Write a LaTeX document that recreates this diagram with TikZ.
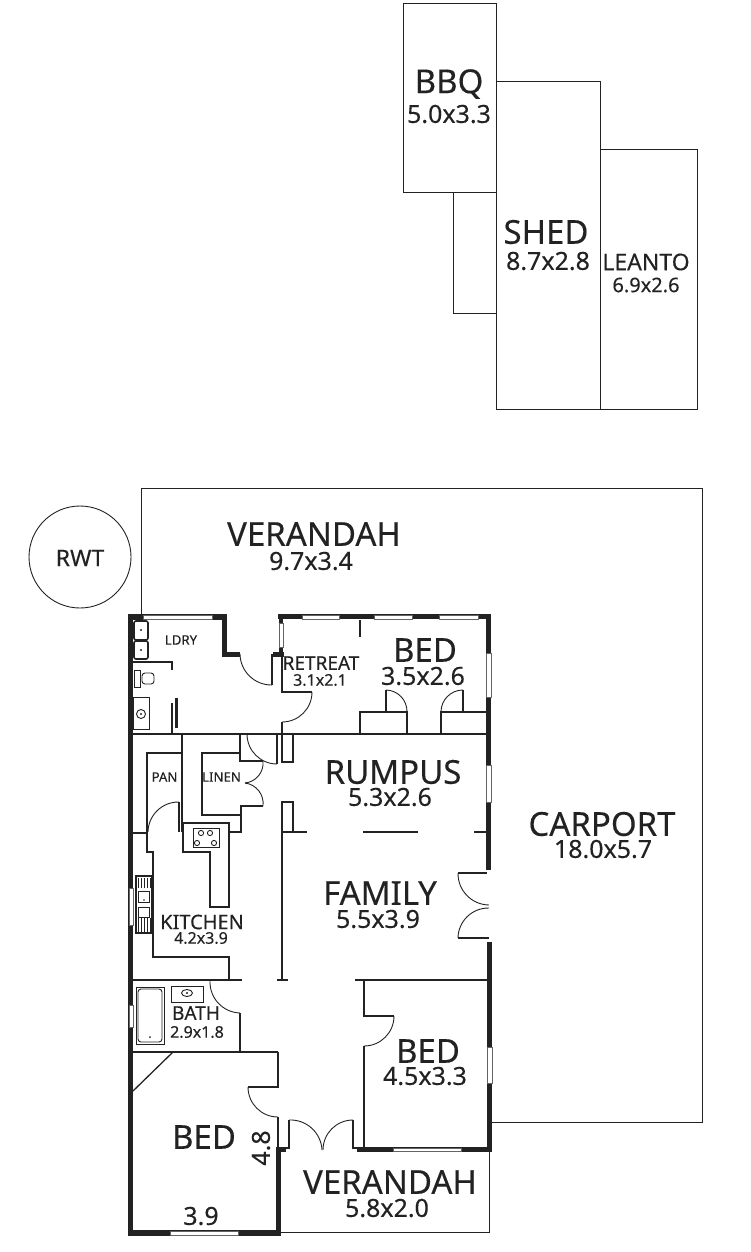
\documentclass[tikz,border=0pt]{standalone}
\usepackage{fontspec}
\setmainfont{Noto Sans}[FakeBold=0.25]
\definecolor{inkdark}{HTML}{222222}
\tikzset{
  bigtext/.style={text=inkdark,inner sep=0pt,font=\fontsize{33}{33}\selectfont},
  dimtext/.style={text=inkdark,inner sep=0pt,font=\fontsize{25}{25}\selectfont},
  leantotext/.style={text=inkdark,inner sep=0pt,font=\fontsize{23}{23}\selectfont},
  midtext/.style={text=inkdark,inner sep=0pt,font=\fontsize{20}{20}\selectfont},
  smalltext/.style={text=inkdark,inner sep=0pt,font=\fontsize{19}{19}\selectfont},
  minitext/.style={text=inkdark,inner sep=0pt,font=\fontsize{16}{16}\selectfont},
  tinytext/.style={text=inkdark,inner sep=0pt,font=\fontsize{13.2}{14}\selectfont},
  outline/.style={draw=inkdark,line width=0.9pt},
  partition/.style={draw=inkdark,line width=1.3pt},
  fixture/.style={draw=inkdark,line width=0.9pt},
  wallfill/.style={fill=inkdark},
  glazing/.style={draw=inkdark!70,fill=white,line width=0.7pt},
}
\begin{document}
\begin{tikzpicture}[x=1pt,y=-1pt]
\useasboundingbox (0,0) rectangle (750,1252);

% outbuildings
\draw[outline] (403,3) rectangle (496,192);
\draw[outline] (496,81) rectangle (600,409);
\draw[outline] (600,149) rectangle (697,409);
\draw[outline] (453,192)--(453,313)--(496,313);

% verandah and carport outline
\draw[outline] (141,614)--(141,488)--(702,488)--(702,1122)--(492,1122);
\draw[outline] (281,1232)--(489,1232)--(489,1152);
\draw[outline] (80,557) circle (51);

% walls
\foreach \xa/\ya/\xb/\yb in {128/614/133/1236,128/614/227/620,222/614/227/657,222/652/240/657,
  278/614/491/619,279/614/283/657,273/652/284/657,486/614/491/870,487/942/492/1152,
  357/1147/491/1152,128/1230/281/1236,276/1147/281/1236,277/1147/286/1152}
{
  \fill[wallfill] (\xa,\ya) rectangle (\xb,\yb);
}
% windows
\foreach \xa/\ya/\xb/\yb in {143/615/212/619,302/615/339/619,374/615/412/619,439/615/478/619,
  279/623/283/647,486/653/491/697,486/765/491/802,487/1047/492/1083,393/1148/461/1151,
  170/1231/238/1235,129/888/133/925,129/1005/133/1027}
{
  \draw[glazing] (\xa,\ya) rectangle (\xb,\yb);
}

% partitions
\draw[partition] (133,734)--(487,734);
\draw[partition] (133,980)--(242,980);
\draw[partition] (355,980)--(487,980);
\draw[partition] (133,1052)--(278,1052);
\draw[partition] (360,620)--(360,637);
\draw[partition] (282,655)--(282,692)--(312,692);
\draw[partition] (282,722)--(282,734);
\draw[partition] (272,685)--(272,655)--(277,655);
\draw[partition] (277,764)--(277,734);
\draw[partition] (360,734)--(360,712)--(407,712)--(407,734);
\draw[partition] (441,734)--(441,712)--(486,712);
\draw[partition] (386,712)--(386,690);
\draw[partition] (463,712)--(463,690);
\draw[partition] (282,734) rectangle (293,762);
\draw[partition] (282,802) rectangle (293,832);
\draw[partition] (282,802)--(282,980);
\draw[partition] (277,980)--(288,980);
\draw[partition] (282,832)--(307,832);
\draw[partition] (363,832)--(418,832);
\draw[partition] (474,832)--(487,832);
\draw[partition] (364,980)--(364,1016)--(394,1016);
\draw[partition] (364,1046)--(364,1148);
\draw[partition] (487,873)--(458,873);
\draw[partition] (458,938)--(489,938);
\draw[partition] (278,1052)--(278,1087)--(248,1087);
\draw[partition] (278,1117)--(278,1147);
\draw[partition] (286,1148)--(289,1148)--(289,1120);
\draw[partition] (357,1148)--(353,1148)--(353,1120);
\draw[partition] (173,1052)--(133,1091);
\draw[partition] (240,1013)--(240,1052);
% pantry and linen
\draw[partition] (182,734)--(182,832);
\draw[partition] (133,833)--(147,833);
\draw[partition] (182,753)--(147,753)--(147,852)--(153,852)--(153,957)--(229,957)--(229,980);
\draw[partition] (179,802)--(179,832);
\draw[partition] (240,734)--(240,761)--(263,761);
\draw[partition] (263,806)--(241,806)--(241,832)--(230,832);
\draw[partition] (240,753)--(202,753)--(202,815)--(241,815);
\draw[partition] (183,823)--(229,823)--(229,907)--(210,907)--(210,852)--(183,852)--cycle;
% laundry
\draw[partition] (133,662)--(172,662)--(172,670);
\draw[partition] (172,703)--(172,734);
\fill[wallfill] (174.5,698) rectangle (177.5,728);

% door swings
\foreach \xa/\ya/\xb/\yb in {240/654/272/685,282/722/312/692,247/734/277/764,210/981/240/1013,
  353/1120/323/1150,458/873/489/905,489/908/458/938,463/690/441/712}
{
  \draw[fixture] (\xa,\ya) to[bend right=45] (\xb,\yb);
}
\foreach \xa/\ya/\xb/\yb in {263/761/245/783,245/783/263/806,148/832/179/802,278/1117/248/1087,
  289/1120/322/1150,394/1016/364/1046,386/690/407/712}
{
  \draw[fixture] (\xa,\ya) to[bend left=45] (\xb,\yb);
}

% fixtures
\draw[fixture,line width=1.6pt,rounded corners=2pt] (134,621) rectangle (148,640);
\draw[fixture,line width=1.6pt,rounded corners=2pt] (134,641) rectangle (148,659);
\fill[inkdark] (141,630) circle (1.2) (141,650) circle (1.2);
\draw[fixture] (134,670) rectangle (140,687);
\draw[fixture,rounded corners=3pt] (142,673) rectangle (154,684);
\draw[fixture] (133,697) rectangle (149,729);
\draw[fixture] (141,714) circle (4.5);
\fill[inkdark] (141,714) circle (1.2);
\draw[fixture] (193,828) rectangle (219,847);
\foreach \x/\y in {201/833,210/833,197/843,214/843}
{
  \draw[fixture] (\x,\y) circle (2.6);
}
\draw[fixture,line width=1.4pt] (136,876) rectangle (152,933);
\foreach \x in {138,141,144,147,150}
{
  \draw[fixture,line width=0.7pt] (\x,878)--(\x,888);
  \draw[fixture,line width=0.7pt] (\x,918)--(\x,932);
}
\draw[fixture] (138,891) rectangle (149,902);
\draw[fixture] (138,907) rectangle (149,917);
\fill[inkdark] (144,900) circle (0.9);
\draw[fixture] (136,987) rectangle (164,1044);
\draw[fixture,rounded corners=3pt] (138,989) rectangle (162,1042);
\fill[inkdark] (150,1037) circle (1);
\draw[fixture] (171,986) rectangle (203,1002);
\draw[fixture] (187,993) ellipse (5.5 and 3.5);
\fill[inkdark] (187,993) circle (1.2);

% labels
\node[bigtext] (bbqname) at (449,84) {BBQ};
\node[dimtext] (bbqsize) at (449,114) {5.0x3.3};
\node[bigtext] (shedname) at (546,232) {SHED};
\node[dimtext] (shedsize) at (548,261) {8.7x2.8};
\node[leantotext] (leantoname) at (646,262) {LEANTO};
\node[midtext] (leantosize) at (646,285) {6.9x2.6};
\node[bigtext] (backname) at (314,534) {VERANDAH};
\node[dimtext] (backsize) at (311,561) {9.7x3.4};
\node[leantotext] (rwtname) at (80,558) {RWT};
\node[tinytext] (ldryname) at (181,640) {LDRY};
\node[smalltext] (retreatname) at (321,663) {RETREAT};
\node[minitext] (retreatsize) at (320,680) {3.1x2.1};
\node[bigtext] (bedaname) at (425,650) {BED};
\node[dimtext] (bedasize) at (423,676) {3.5x2.6};
\node[bigtext] (rumpusname) at (393,772) {RUMPUS};
\node[dimtext] (rumpussize) at (390,797) {5.3x2.6};
\node[tinytext] (panname) at (164.5,777) {PAN};
\node[tinytext] (linenname) at (221.5,777) {LINEN};
\node[bigtext] (carportname) at (602,824) {CARPORT};
\node[dimtext] (carportsize) at (603,849) {18.0x5.7};
\node[bigtext] (familyname) at (380,893) {FAMILY};
\node[dimtext] (familysize) at (378,919) {5.5x3.9};
\node[midtext] (kitchenname) at (202,922) {KITCHEN};
\node[minitext] (kitchensize) at (201,938) {4.2x3.9};
\node[smalltext] (bathname) at (196,1013) {BATH};
\node[minitext] (bathsize) at (197,1032) {2.9x1.8};
\node[bigtext] (bedbname) at (428,1051) {BED};
\node[dimtext] (bedbsize) at (425,1076) {4.5x3.3};
\node[bigtext] (bedcname) at (204,1137) {BED};
\node[dimtext,rotate=90] (bedcdepth) at (261,1148) {4.8};
\node[dimtext] (bedcwidth) at (201,1216) {3.9};
\node[bigtext] (frontname) at (390,1182) {VERANDAH};
\node[dimtext] (frontsize) at (387,1208) {5.8x2.0};
\end{tikzpicture}
\end{document}
